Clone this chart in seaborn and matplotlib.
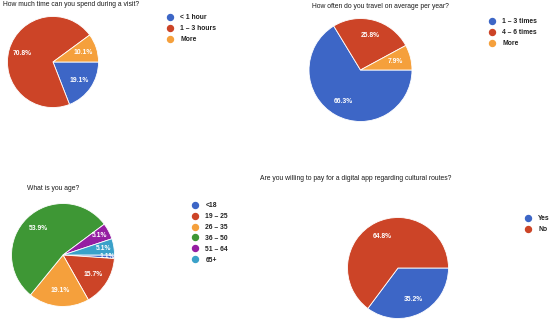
import seaborn as sns
import matplotlib.pyplot as plt
from matplotlib.lines import Line2D

# survey answers (percent)
visit_labels = ["< 1 hour", "1 – 3 hours", "More"]
visit_values = [19.1, 70.8, 10.1]

travel_labels = ["1 – 3 times", "4 – 6 times", "More"]
travel_values = [66.3, 25.8, 7.9]

age_labels = ["<18", "19 – 25", "26 – 35", "36 – 50", "51 – 64", "65+"]
age_values = [1.1, 15.7, 19.1, 53.9, 5.1, 5.1]

pay_labels = ["Yes", "No"]
pay_values = [35.2, 64.8]

sns.set_style("white")
plt.rcParams['font.family'] = ['Liberation Sans', 'DejaVu Sans']

W, H = 550, 320
fig = plt.figure(figsize=(W / 100, H / 100), dpi=100)
forms_colors = ["#3d66c6", "#cc4427", "#f5a03c", "#3e9735", "#951ea2", "#3aa1c9"]
palette = sns.color_palette(forms_colors)
FS = 4.9


def draw_pie(values, labels, title, cx, cy, r, title_xy, legend_xy):
    ax = fig.add_axes([(cx - r) / W, (H - cy - r) / H, 2 * r / W, 2 * r / H])
    cols = palette[:len(values)]
    wedges, _, autotexts = ax.pie(values, colors=cols, startangle=0, counterclock=False,
                                  autopct=lambda p: f"{p:.1f}%", pctdistance=0.7,
                                  wedgeprops=dict(edgecolor="white", linewidth=0.6),
                                  textprops=dict(color="white", fontsize=FS, fontweight="bold"))
    # push labels of thin slices toward the rim
    total = sum(values)
    for v, t in zip(values, autotexts):
        if v / total < 0.06:
            x, y = t.get_position()
            k = 0.86 / 0.7 if v / total < 0.03 else 0.8 / 0.7
            t.set_position((x * k, y * k))
    ax.set_xlim(-1.01, 1.01)
    ax.set_ylim(-1.01, 1.01)
    ax.axis("off")
    fig.text(title_xy[0] / W, 1 - title_xy[1] / H, title, fontsize=FS,
             color="#1a1a1a", va="center", ha="left")
    handles = [Line2D([], [], marker="o", linestyle="", markersize=4.3,
                      markerfacecolor=c, markeredgecolor=c) for c in cols]
    leg = fig.legend(handles, labels, loc="upper left",
                     bbox_to_anchor=((legend_xy[0] - 3.3) / W, 1 - legend_xy[1] / H),
                     frameon=False, fontsize=FS, borderpad=0, borderaxespad=0,
                     handlelength=1, handletextpad=1.0, labelspacing=0.58)
    for t in leg.get_texts():
        t.set_color("#222222")
        t.set_fontweight("bold")


draw_pie(visit_values, visit_labels, "How much time can you spend during a visit?",
         53, 62, 46, (3, 5), (170, 14))
draw_pie(travel_values, travel_labels, "How often do you travel on average per year?",
         360.5, 70, 52, (312, 6), (492, 18))
draw_pie(age_values, age_labels, "What is you age?",
         63, 255, 52, (27, 189), (195, 202))
draw_pie(pay_values, pay_labels, "Are you willing to pay for a digital app regarding cultural routes?",
         398, 268, 51, (260, 179), (528, 215))

plt.savefig("out.png", dpi=100)
